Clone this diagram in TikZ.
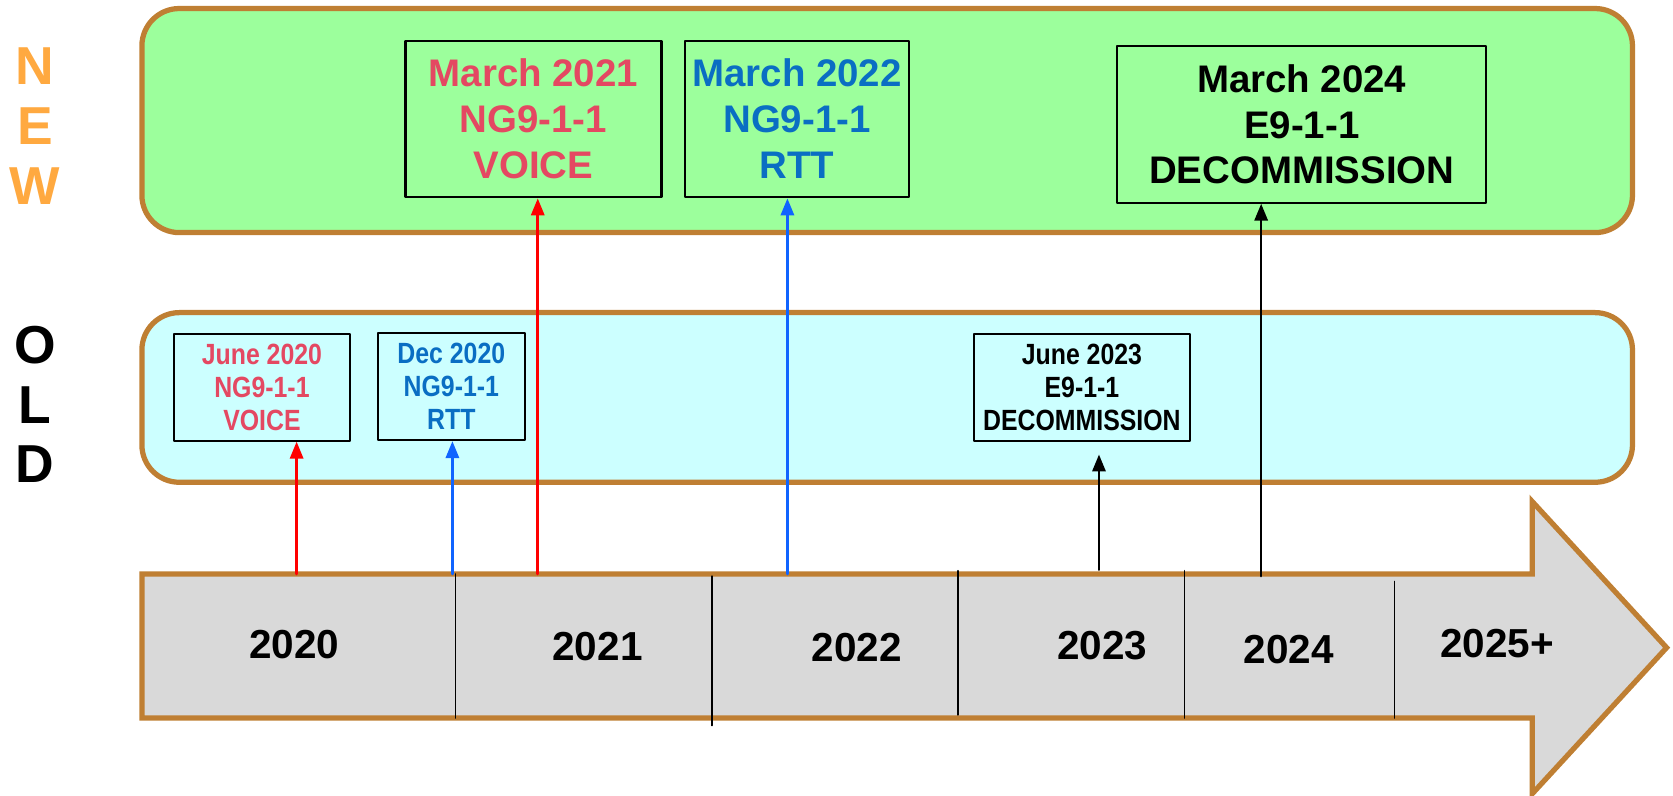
\documentclass[tikz,border=0pt]{standalone}
\usepackage{fontspec}
\setmainfont{Liberation Sans}
\newfontfamily\narrowfont{Liberation Sans}[FakeStretch=0.85]
\usetikzlibrary{arrows.meta}
\definecolor{rimbrown}{RGB}{191,127,51}
\definecolor{newgreen}{RGB}{156,255,156}
\definecolor{oldcyan}{RGB}{204,255,255}
\definecolor{bargray}{RGB}{217,217,217}
\definecolor{voicered}{RGB}{228,72,98}
\definecolor{rttblue}{RGB}{10,110,195}
\definecolor{newlabel}{RGB}{255,169,64}
\definecolor{arrowblue}{RGB}{16,100,255}

\begin{document}
\begin{tikzpicture}[line cap=round,line join=round,x=0.02cm,y=-0.02cm,
    band/.style={draw=rimbrown,line width=2.8pt,rounded corners=0.7cm},
    newbox/.style={draw=black,line width=1.1pt,align=center,inner sep=0pt,
      minimum height=2.94cm,font=\fontsize{20.5}{24.5}\selectfont\bfseries},
    oldbox/.style={draw=black,line width=1.1pt,align=center,inner sep=0pt,
      minimum height=2cm,font=\narrowfont\fontsize{15.6}{17.6}\selectfont\bfseries},
    yearlabel/.style={font=\fontsize{21.6}{26}\selectfont\bfseries},
    sidelabel/.style={align=center,font=\fontsize{28.5}{31.9}\selectfont\bfseries},
    uparrow/.style={line width=1.4pt,-{Triangle[length=9pt,width=7pt]}},
    divider/.style={line width=0.9pt}]
\useasboundingbox (0,0) rectangle (1568,746);
% bands
\draw [band,fill=newgreen] (133,8) rectangle (1530,218);
\draw [band,fill=oldcyan] (133,293) rectangle (1530,452);
% time line
\draw [draw=rimbrown,line width=2.8pt,line join=miter,fill=bargray] (133,538) -- (1436,538) -- (1436,470) -- (1562,607) -- (1436,744) -- (1436,673) -- (133,673) -- cycle;
\draw [divider] (427,538) -- (427,673);
\draw [divider] (667,540) -- (667,680);
\draw [divider] (898,535) -- (898,670);
\draw [divider] (1110,535) -- (1110,673);
\draw [divider] (1307,545) -- (1307,673);
\node [yearlabel] (y20) at (276,604) {2020};
\node [yearlabel] (y21) at (560,606) {2021};
\node [yearlabel] (y22) at (803,607) {2022};
\node [yearlabel] (y23) at (1033,605) {2023};
\node [yearlabel] (y24) at (1208,609) {2024};
\node [yearlabel] (y25) at (1403,603) {2025+};
% side labels
\node [sidelabel,text=newlabel] (newtag) at (33,118) {N\\E\\W};
\node [sidelabel] (oldtag) at (33,379) {O\\L\\D};
% new dates
\node [newbox,minimum width=4.8cm,text=voicered] (mar21) at (500,111.5) {March 2021\\NG9-1-1\\VOICE};
\node [newbox,minimum width=4.2cm,text=rttblue] (mar22) at (747,111.5) {March 2022\\NG9-1-1\\RTT};
\node [newbox,minimum width=6.92cm] (mar24) at (1220,116.5) {March 2024\\E9-1-1\\DECOMMISSION};
% old dates
\node [oldbox,minimum width=3.3cm,text=voicered] (jun20) at (245.5,363) {June 2020\\NG9-1-1\\VOICE};
\node [oldbox,minimum width=2.76cm,text=rttblue] (dec20) at (423,362.5) {Dec 2020\\NG9-1-1\\RTT};
\node [oldbox,minimum width=4.04cm] (jun23) at (1014,363) {June 2023\\E9-1-1\\DECOMMISSION};
% links
\coordinate (t20) at (278,538);
\coordinate (t20b) at (424,538);
\coordinate (t21) at (504,538);
\coordinate (t22) at (738,538);
\coordinate (t23) at (1030,534);
\coordinate (t24) at (1182,540);
\draw [uparrow,red] (t20) -- (t20 |- jun20.south);
\draw [uparrow,arrowblue] (t20b) -- (t20b |- dec20.south);
\draw [uparrow,red] (t21) -- (t21 |- mar21.south);
\draw [uparrow,arrowblue] (t22) -- (t22 |- mar22.south);
\draw [uparrow,shorten >=0.24cm] (t23) -- (t23 |- jun23.south);
\draw [uparrow] (t24) -- (t24 |- mar24.south);
\end{tikzpicture}
\end{document}
